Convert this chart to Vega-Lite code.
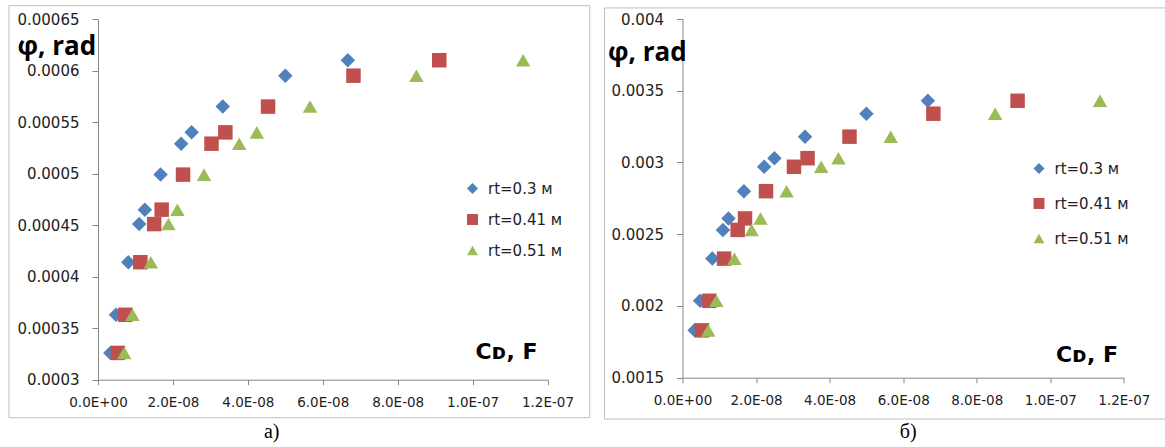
{
  "$schema": "https://vega.github.io/schema/vega-lite/v6.json",
  "padding": {"left": 8, "top": 5, "right": 0, "bottom": 0},
  "background": "white",
  "config": {
    "view": {"stroke": null},
    "axis": {
      "gridColor": "#d9d9d9", "domainColor": "#868686", "tickColor": "#868686",
      "labelFont": "DejaVu Sans", "labelColor": "#222222", "labelOverlap": false, "labelFlush": false,
      "titleColor": "#000000", "titleFontWeight": "bold"
    },
    "legend": {"labelFont": "DejaVu Sans", "labelFontSize": 15, "labelColor": "#222222"}
  },
  "datasets": {
    "pts": [
      {"panel": "a", "series": "rt=0.3 м", "C": 3.3e-9, "phi": 0.000326},
      {"panel": "a", "series": "rt=0.3 м", "C": 4.8e-9, "phi": 0.000363},
      {"panel": "a", "series": "rt=0.3 м", "C": 8.1e-9, "phi": 0.000414},
      {"panel": "a", "series": "rt=0.3 м", "C": 11.0e-9, "phi": 0.000451},
      {"panel": "a", "series": "rt=0.3 м", "C": 12.5e-9, "phi": 0.000465},
      {"panel": "a", "series": "rt=0.3 м", "C": 16.7e-9, "phi": 0.000499},
      {"panel": "a", "series": "rt=0.3 м", "C": 22.2e-9, "phi": 0.000529},
      {"panel": "a", "series": "rt=0.3 м", "C": 25.0e-9, "phi": 0.00054},
      {"panel": "a", "series": "rt=0.3 м", "C": 33.3e-9, "phi": 0.000565},
      {"panel": "a", "series": "rt=0.3 м", "C": 50.0e-9, "phi": 0.000595},
      {"panel": "a", "series": "rt=0.3 м", "C": 66.7e-9, "phi": 0.00061},
      {"panel": "a", "series": "rt=0.41 м", "C": 5.3e-9, "phi": 0.000326},
      {"panel": "a", "series": "rt=0.41 м", "C": 7.3e-9, "phi": 0.000363},
      {"panel": "a", "series": "rt=0.41 м", "C": 11.3e-9, "phi": 0.000414},
      {"panel": "a", "series": "rt=0.41 м", "C": 15.0e-9, "phi": 0.000451},
      {"panel": "a", "series": "rt=0.41 м", "C": 17.0e-9, "phi": 0.000465},
      {"panel": "a", "series": "rt=0.41 м", "C": 22.7e-9, "phi": 0.000499},
      {"panel": "a", "series": "rt=0.41 м", "C": 30.3e-9, "phi": 0.000529},
      {"panel": "a", "series": "rt=0.41 м", "C": 34.0e-9, "phi": 0.00054},
      {"panel": "a", "series": "rt=0.41 м", "C": 45.4e-9, "phi": 0.000565},
      {"panel": "a", "series": "rt=0.41 м", "C": 68.2e-9, "phi": 0.000595},
      {"panel": "a", "series": "rt=0.41 м", "C": 91.1e-9, "phi": 0.00061},
      {"panel": "a", "series": "rt=0.51 м", "C": 7.0e-9, "phi": 0.000326},
      {"panel": "a", "series": "rt=0.51 м", "C": 9.2e-9, "phi": 0.000363},
      {"panel": "a", "series": "rt=0.51 м", "C": 14.1e-9, "phi": 0.000414},
      {"panel": "a", "series": "rt=0.51 м", "C": 18.8e-9, "phi": 0.000451},
      {"panel": "a", "series": "rt=0.51 м", "C": 21.2e-9, "phi": 0.000465},
      {"panel": "a", "series": "rt=0.51 м", "C": 28.3e-9, "phi": 0.000499},
      {"panel": "a", "series": "rt=0.51 м", "C": 37.7e-9, "phi": 0.000529},
      {"panel": "a", "series": "rt=0.51 м", "C": 42.4e-9, "phi": 0.00054},
      {"panel": "a", "series": "rt=0.51 м", "C": 56.6e-9, "phi": 0.000565},
      {"panel": "a", "series": "rt=0.51 м", "C": 85.0e-9, "phi": 0.000595},
      {"panel": "a", "series": "rt=0.51 м", "C": 113.5e-9, "phi": 0.00061},
      {"panel": "b", "series": "rt=0.3 м", "C": 3.3e-9, "phi": 0.00183},
      {"panel": "b", "series": "rt=0.3 м", "C": 4.8e-9, "phi": 0.002036},
      {"panel": "b", "series": "rt=0.3 м", "C": 8.1e-9, "phi": 0.00233},
      {"panel": "b", "series": "rt=0.3 м", "C": 11.0e-9, "phi": 0.00253},
      {"panel": "b", "series": "rt=0.3 м", "C": 12.5e-9, "phi": 0.00261},
      {"panel": "b", "series": "rt=0.3 м", "C": 16.7e-9, "phi": 0.0028},
      {"panel": "b", "series": "rt=0.3 м", "C": 22.2e-9, "phi": 0.00297},
      {"panel": "b", "series": "rt=0.3 м", "C": 25.0e-9, "phi": 0.00303},
      {"panel": "b", "series": "rt=0.3 м", "C": 33.3e-9, "phi": 0.00318},
      {"panel": "b", "series": "rt=0.3 м", "C": 50.0e-9, "phi": 0.00334},
      {"panel": "b", "series": "rt=0.3 м", "C": 66.7e-9, "phi": 0.00343},
      {"panel": "b", "series": "rt=0.41 м", "C": 5.3e-9, "phi": 0.00183},
      {"panel": "b", "series": "rt=0.41 м", "C": 7.3e-9, "phi": 0.002036},
      {"panel": "b", "series": "rt=0.41 м", "C": 11.3e-9, "phi": 0.00233},
      {"panel": "b", "series": "rt=0.41 м", "C": 15.0e-9, "phi": 0.00253},
      {"panel": "b", "series": "rt=0.41 м", "C": 17.0e-9, "phi": 0.00261},
      {"panel": "b", "series": "rt=0.41 м", "C": 22.7e-9, "phi": 0.0028},
      {"panel": "b", "series": "rt=0.41 м", "C": 30.3e-9, "phi": 0.00297},
      {"panel": "b", "series": "rt=0.41 м", "C": 34.0e-9, "phi": 0.00303},
      {"panel": "b", "series": "rt=0.41 м", "C": 45.4e-9, "phi": 0.00318},
      {"panel": "b", "series": "rt=0.41 м", "C": 68.2e-9, "phi": 0.00334},
      {"panel": "b", "series": "rt=0.41 м", "C": 91.1e-9, "phi": 0.00343},
      {"panel": "b", "series": "rt=0.51 м", "C": 7.0e-9, "phi": 0.00183},
      {"panel": "b", "series": "rt=0.51 м", "C": 9.2e-9, "phi": 0.002036},
      {"panel": "b", "series": "rt=0.51 м", "C": 14.1e-9, "phi": 0.00233},
      {"panel": "b", "series": "rt=0.51 м", "C": 18.8e-9, "phi": 0.00253},
      {"panel": "b", "series": "rt=0.51 м", "C": 21.2e-9, "phi": 0.00261},
      {"panel": "b", "series": "rt=0.51 м", "C": 28.3e-9, "phi": 0.0028},
      {"panel": "b", "series": "rt=0.51 м", "C": 37.7e-9, "phi": 0.00297},
      {"panel": "b", "series": "rt=0.51 м", "C": 42.4e-9, "phi": 0.00303},
      {"panel": "b", "series": "rt=0.51 м", "C": 56.6e-9, "phi": 0.00318},
      {"panel": "b", "series": "rt=0.51 м", "C": 85.0e-9, "phi": 0.00334},
      {"panel": "b", "series": "rt=0.51 м", "C": 113.5e-9, "phi": 0.00343}
    ]
  },
  "bounds": "flush",
  "spacing": 134.5,
  "resolve": {
    "scale": {"color": "independent", "shape": "independent", "x": "independent", "y": "independent"},
    "legend": {"color": "independent", "shape": "independent"}
  },
  "hconcat": [
    {
      "width": 449.5,
      "height": 360.7,
      "title": {"text": "a)", "orient": "bottom", "frame": "group", "anchor": "middle", "dx": -51, "offset": 4, "font": "Liberation Serif", "fontSize": 20, "fontWeight": "normal", "color": "#000000"},
      "layer": [
        {
          "data": {"values": [{}]},
          "mark": {"type": "rect", "fill": "transparent", "stroke": "#bfbfbf", "strokeWidth": 1},
          "encoding": {
            "x": {"datum": -2.376e-8, "type": "quantitative"},
            "x2": {"datum": 1.313e-7},
            "y": {"datum": 0.0006629, "type": "quantitative"},
            "y2": {"datum": 0.0002631}
          }
        },
        {
          "data": {"name": "pts"},
          "transform": [{"filter": "datum.panel == 'a'"}],
          "mark": {"type": "point", "filled": true, "opacity": 1, "size": 210},
          "encoding": {
            "x": {"field": "C", "type": "quantitative",
              "scale": {"domain": [0, 1.2e-7], "nice": false, "zero": false},
              "axis": {"values": [0, 2e-8, 4e-8, 6e-8, 8e-8, 1e-7, 1.2e-7],
                "labelExpr": "datum.value == 0 ? '0.0E+00' : replace(upper(format(datum.value, '.1e')), 'E-', 'E-0')",
                "labelFontSize": 13.5, "tickSize": 5, "labelPadding": 11,
                "title": "Cᴅ, F", "titleFont": "DejaVu Sans", "titleX": 439, "titleY": -28, "titleAlign": "right", "titleBaseline": "middle", "titleFontSize": 22}},
            "y": {"field": "phi", "type": "quantitative",
              "scale": {"domain": [0.0003, 0.00065], "nice": false, "zero": false},
              "axis": {"values": [0.0003, 0.00035, 0.0004, 0.00045, 0.0005, 0.00055, 0.0006, 0.00065],
                "format": "~g", "labelFontSize": 15, "tickSize": 6, "labelPadding": 13,
                "title": "φ, rad", "titleFont": "Open Sans", "titleX": -81, "titleY": 27, "titleAngle": 0, "titleAlign": "left", "titleBaseline": "middle", "titleFontSize": 26}},
            "color": {"field": "series", "type": "nominal",
              "scale": {"domain": ["rt=0.3 м", "rt=0.41 м", "rt=0.51 м"], "range": ["#4F81BD", "#C0504D", "#9BBB59"]},
              "legend": {"title": null, "orient": "none", "legendX": 367, "legendY": 162, "rowPadding": 15, "symbolSize": 120, "labelOffset": 8}},
            "shape": {"field": "series", "type": "nominal",
              "scale": {"domain": ["rt=0.3 м", "rt=0.41 м", "rt=0.51 м"], "range": ["diamond", "square", "triangle-up"]},
              "legend": {"title": null, "orient": "none", "legendX": 367, "legendY": 162, "rowPadding": 15, "symbolSize": 120, "labelOffset": 8}}
          }
        }
      ]
    },
    {
      "width": 441.4,
      "height": 358.7,
      "title": {"text": "б)", "orient": "bottom", "frame": "group", "anchor": "middle", "dx": 5, "offset": 2, "font": "Liberation Serif", "fontSize": 20, "fontWeight": "normal", "color": "#000000"},
      "layer": [
        {
          "data": {"values": [{}]},
          "mark": {"type": "rect", "fill": "transparent", "stroke": "#bfbfbf", "strokeWidth": 1},
          "encoding": {
            "x": {"datum": -2.12e-8, "type": "quantitative"},
            "x2": {"datum": 1.313e-7},
            "y": {"datum": 0.004077, "type": "quantitative"},
            "y2": {"datum": 0.001212}
          }
        },
        {
          "data": {"name": "pts"},
          "transform": [{"filter": "datum.panel == 'b'"}],
          "mark": {"type": "point", "filled": true, "opacity": 1, "size": 210},
          "encoding": {
            "x": {"field": "C", "type": "quantitative",
              "scale": {"domain": [0, 1.2e-7], "nice": false, "zero": false},
              "axis": {"values": [0, 2e-8, 4e-8, 6e-8, 8e-8, 1e-7, 1.2e-7],
                "labelExpr": "datum.value == 0 ? '0.0E+00' : replace(upper(format(datum.value, '.1e')), 'E-', 'E-0')",
                "labelFontSize": 13.5, "tickSize": 5, "labelPadding": 11,
                "title": "Cᴅ, F", "titleFont": "DejaVu Sans", "titleX": 435, "titleY": -23, "titleAlign": "right", "titleBaseline": "middle", "titleFontSize": 22}},
            "y": {"field": "phi", "type": "quantitative",
              "scale": {"domain": [0.0015, 0.004], "nice": false, "zero": false},
              "axis": {"values": [0.0015, 0.002, 0.0025, 0.003, 0.0035, 0.004],
                "format": "~g", "labelFontSize": 15, "tickSize": 6, "labelPadding": 13,
                "title": "φ, rad", "titleFont": "Open Sans", "titleX": -75, "titleY": 33, "titleAngle": 0, "titleAlign": "left", "titleBaseline": "middle", "titleFontSize": 26}},
            "color": {"field": "series", "type": "nominal",
              "scale": {"domain": ["rt=0.3 м", "rt=0.41 м", "rt=0.51 м"], "range": ["#4F81BD", "#C0504D", "#9BBB59"]},
              "legend": {"title": null, "orient": "none", "legendX": 349, "legendY": 142, "rowPadding": 19, "symbolSize": 120, "labelOffset": 8}},
            "shape": {"field": "series", "type": "nominal",
              "scale": {"domain": ["rt=0.3 м", "rt=0.41 м", "rt=0.51 м"], "range": ["diamond", "square", "triangle-up"]},
              "legend": {"title": null, "orient": "none", "legendX": 349, "legendY": 142, "rowPadding": 19, "symbolSize": 120, "labelOffset": 8}}
          }
        }
      ]
    }
  ]
}
